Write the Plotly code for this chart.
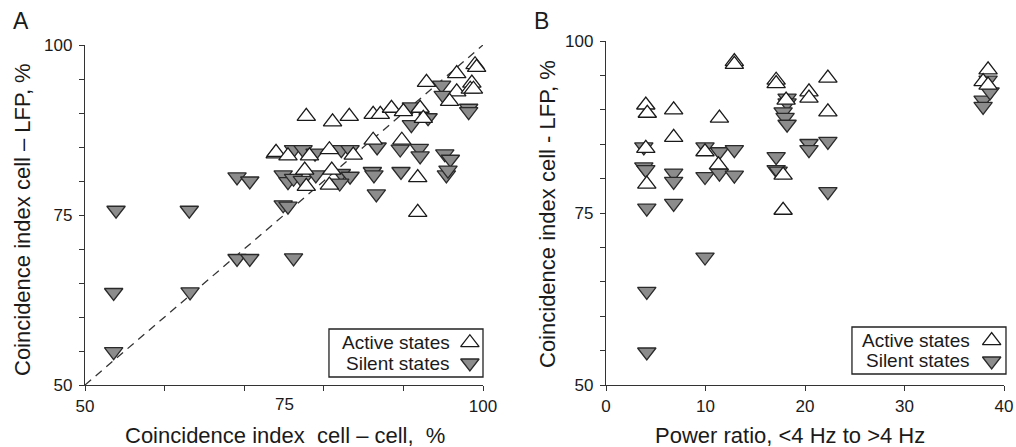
import plotly.graph_objects as go

# ---------------- data ----------------
# Panel A: coincidence index cell-cell (x) vs cell-LFP (y), %
a_active_x = [77.8, 81.1, 83.2, 73.9, 74.0, 75.5, 78.2, 80.7, 83.7, 77.6, 81.0, 77.8, 80.7,
              86.2, 89.8, 91.8, 91.8, 86.2, 87.1, 88.5, 90.0, 92.1, 92.5, 92.9, 96.7, 99.0,
              99.2, 98.6, 96.7, 95.8, 98.4, 98.8]
a_active_y = [89.5, 88.7, 89.5, 84.0, 84.2, 83.7, 83.7, 84.6, 83.8, 81.6, 81.6, 79.2, 79.4,
              86.0, 86.0, 80.5, 75.4, 89.8, 89.8, 90.7, 90.2, 90.7, 89.2, 94.5, 95.8, 97.1,
              96.7, 94.4, 93.1, 91.7, 93.5, 93.5]
a_silent_x = [53.9, 53.6, 53.6, 63.1, 63.2, 69.1, 70.7, 69.1, 70.7, 76.2, 74.9, 75.5, 74.9,
              75.5, 76.2, 77.3, 79.0, 82.2, 83.3, 82.0, 76.2, 77.4, 78.9, 82.2, 83.3, 86.1,
              86.3, 86.6, 86.7, 89.7, 89.6, 92.0, 92.1, 95.2, 95.9, 95.4, 95.6, 91.0, 91.0,
              93.1, 94.8, 95.0, 98.2, 98.2]
a_silent_y = [75.7, 63.6, 54.9, 75.7, 63.7, 80.6, 80.0, 68.6, 68.6, 68.7, 76.5, 76.3, 80.9,
              79.9, 80.4, 80.1, 80.9, 81.1, 80.7, 79.7, 84.6, 84.6, 84.1, 84.6, 84.6, 81.4,
              80.9, 78.1, 85.0, 81.4, 84.7, 84.8, 83.7, 84.0, 83.2, 80.9, 81.6, 90.9, 88.3,
              89.3, 94.1, 92.6, 90.7, 90.2]
diag = [50, 100]

# Panel B: power ratio (x) vs coincidence index cell-LFP (y)
b_active_x = [4.0, 4.15, 4.0, 4.1, 6.8, 6.8, 9.95, 11.4, 11.3, 12.9, 12.9, 17.1, 17.1,
              17.8, 17.8, 18.1, 20.4, 20.4, 22.3, 22.3, 38.4, 37.9, 38.4]
b_active_y = [90.7, 89.5, 84.4, 79.2, 90.0, 86.0, 83.9, 88.8, 82.0, 97.0, 96.6, 94.3, 93.8,
              80.5, 75.4, 91.4, 92.6, 91.7, 94.6, 89.7, 95.8, 94.1, 93.6]
b_silent_x = [3.8, 3.8, 4.0, 4.1, 4.1, 4.1, 6.8, 6.8, 6.8, 9.95, 9.95, 9.95, 11.4, 11.4,
              12.9, 12.9, 17.1, 17.1, 17.3, 18.2, 18.2, 17.8, 18.0, 18.2, 20.4, 20.4, 22.3,
              22.3, 37.9, 37.9, 38.4, 38.6]
b_silent_y = [84.6, 81.7, 81.3, 75.7, 63.6, 54.8, 80.8, 79.6, 76.4, 84.6, 80.3, 68.6, 83.9,
              80.8, 84.2, 80.5, 83.2, 81.3, 81.1, 91.7, 91.0, 89.7, 88.9, 87.9, 85.1, 84.2,
              85.4, 78.1, 91.4, 90.5, 94.3, 92.6]

y_tickvals = [50, 55, 60, 65, 70, 75, 80, 85, 90, 95, 100]
y_ticktext = ["50", "", "", "", "", "75", "", "", "", "", "100"]
a_x_tickvals = [50, 60, 70, 80, 90, 100]
a_x_ticktext = ["50", "", "", "", "", "100"]
b_x_tickvals = [0, 10, 20, 30, 40]
b_x_ticktext = ["0", "10", "20", "30", "40"]
legend_labels = ["Active states", "Silent states"]

# ---------------- style ----------------
FONT = "Arial, 'Liberation Sans', sans-serif"
TXT = "#1a1a1a"
AX = "#333333"
MS = 16
active_marker = dict(symbol="triangle-up", size=MS, color="white", line=dict(color="#1a1a1a", width=1.3))
silent_marker = dict(symbol="triangle-down", size=MS, color="#8c8c8c", line=dict(color="#2a2a2a", width=1.3))

fig = go.Figure()
fig.add_trace(go.Scatter(x=diag, y=diag, mode="lines", xaxis="x", yaxis="y",
                         line=dict(color="#333", width=1.3, dash="8px,6px"), showlegend=False, hoverinfo="skip"))
fig.add_trace(go.Scatter(x=a_silent_x, y=a_silent_y, mode="markers", xaxis="x", yaxis="y",
                         marker=silent_marker, showlegend=False, cliponaxis=False))
fig.add_trace(go.Scatter(x=a_active_x, y=a_active_y, mode="markers", xaxis="x", yaxis="y",
                         marker=active_marker, showlegend=False, cliponaxis=False))
fig.add_trace(go.Scatter(x=b_silent_x, y=b_silent_y, mode="markers", xaxis="x2", yaxis="y2",
                         marker=silent_marker, showlegend=False, cliponaxis=False))
fig.add_trace(go.Scatter(x=b_active_x, y=b_active_y, mode="markers", xaxis="x2", yaxis="y2",
                         marker=active_marker, showlegend=False, cliponaxis=False))

# custom legend keys (marker to the right of the text, as in the original)
legA = dict(x0=0.613, x1=1.0, y0=0.0235, y1=0.1647, tx=0.922, rows=[0.1244, 0.0647], mk=0.967)
legB = dict(x0=0.618, x1=1.005, y0=0.032, y1=0.1686, tx=0.920, rows=[0.1288, 0.0698], mk=0.969)
for ax_x, ax_y, lg in (("x3", "y3", legA), ("x4", "y4", legB)):
    fig.add_trace(go.Scatter(x=[lg["mk"]], y=[lg["rows"][0]], mode="markers", xaxis=ax_x, yaxis=ax_y,
                             marker=active_marker, showlegend=False, cliponaxis=False, hoverinfo="skip"))
    fig.add_trace(go.Scatter(x=[lg["mk"]], y=[lg["rows"][1]], mode="markers", xaxis=ax_x, yaxis=ax_y,
                             marker=silent_marker, showlegend=False, cliponaxis=False, hoverinfo="skip"))

W, H = 1016, 447
dxA = [85 / W, 483 / W]
dyA = [62 / H, 402 / H]
dxB = [606 / W, 1004 / W]
dyB = [62 / H, 406 / H]

tickfont = dict(family=FONT, size=17, color=TXT)
common_y = dict(tickmode="array", tickvals=y_tickvals, ticktext=y_ticktext, ticks="outside",
                ticklen=5, tickwidth=1.2, tickcolor=AX, showline=True, linecolor=AX, linewidth=1.3,
                showgrid=False, zeroline=False, tickfont=tickfont, range=[50, 100], fixedrange=True,
                ticklabelstandoff=3)
common_x = dict(ticks="outside", ticklen=5, tickwidth=1.2, tickcolor=AX, showline=True,
                linecolor=AX, linewidth=1.3, showgrid=False, zeroline=False, tickfont=tickfont,
                tickmode="array", fixedrange=True)

fig.update_layout(
    width=W, height=H, margin=dict(l=0, r=0, t=0, b=0, autoexpand=False),
    paper_bgcolor="white", plot_bgcolor="white", showlegend=False,
    font=dict(family=FONT, color=TXT),
    xaxis=dict(domain=dxA, anchor="y", range=[50, 100], tickvals=a_x_tickvals, ticktext=a_x_ticktext, **common_x),
    yaxis=dict(domain=dyA, anchor="x", **common_y),
    xaxis2=dict(domain=dxB, anchor="y2", range=[0, 40], tickvals=b_x_tickvals, ticktext=b_x_ticktext, **common_x),
    yaxis2=dict(domain=dyB, anchor="x2", **common_y),
    xaxis3=dict(overlaying="x", anchor="y3", range=[0, 1], visible=False, fixedrange=True),
    yaxis3=dict(overlaying="y", anchor="x3", range=[0, 1], visible=False, fixedrange=True),
    xaxis4=dict(overlaying="x2", anchor="y4", range=[0, 1], visible=False, fixedrange=True),
    yaxis4=dict(overlaying="y2", anchor="x4", range=[0, 1], visible=False, fixedrange=True),
)

shapes = []
ann = []
for xr, yr, lg in (("x domain", "y domain", legA), ("x2 domain", "y2 domain", legB)):
    shapes.append(dict(type="rect", xref=xr, yref=yr, x0=lg["x0"], x1=lg["x1"], y0=lg["y0"], y1=lg["y1"],
                       line=dict(color="#222", width=1.3), fillcolor="white", layer="below"))
    for lab, ry in zip(legend_labels, lg["rows"]):
        ann.append(dict(xref=xr, yref=yr, x=lg["tx"], y=ry, text=lab, showarrow=False,
                        xanchor="right", yanchor="middle", font=dict(family=FONT, size=19, color=TXT)))

title_font = dict(family=FONT, size=22, color=TXT)
nb = "\u00a0"
ann += [
    # "75" label on panel A x axis (label without its own tick, as in the original)
    dict(xref="x", yref="y domain", x=75, y=0, yshift=-8, text="75", showarrow=False,
         xanchor="center", yanchor="top", font=tickfont),
    dict(xref="paper", yref="paper", x=285 / W, y=(H - 435) / H, text=f"Coincidence index{nb}{nb}cell – cell,{nb}{nb}%",
         showarrow=False, xanchor="center", yanchor="middle", font=title_font),
    dict(xref="paper", yref="paper", x=790 / W, y=(H - 435) / H, text="Power ratio, &lt;4 Hz to &gt;4 Hz",
         showarrow=False, xanchor="center", yanchor="middle", font=title_font),
    dict(xref="paper", yref="paper", x=22 / W, y=(H - 220) / H, text="Coincidence index cell – LFP, %",
         showarrow=False, xanchor="center", yanchor="middle", textangle=-90, font=title_font),
    dict(xref="paper", yref="paper", x=547 / W, y=(H - 214) / H, text="Coincidence index cell - LFP, %",
         showarrow=False, xanchor="center", yanchor="middle", textangle=-90, font=title_font),
    dict(xref="paper", yref="paper", x=21 / W, y=(H - 21) / H, text="A", showarrow=False,
         xanchor="center", yanchor="middle", font=dict(family=FONT, size=23, color=TXT)),
    dict(xref="paper", yref="paper", x=541 / W, y=(H - 21) / H, text="B", showarrow=False,
         xanchor="center", yanchor="middle", font=dict(family=FONT, size=23, color=TXT)),
]
fig.update_layout(shapes=shapes, annotations=ann)

fig.write_html("out.html", config={"displayModeBar": False},
               post_script="document.body.style.margin='0';document.body.style.overflow='hidden';")
